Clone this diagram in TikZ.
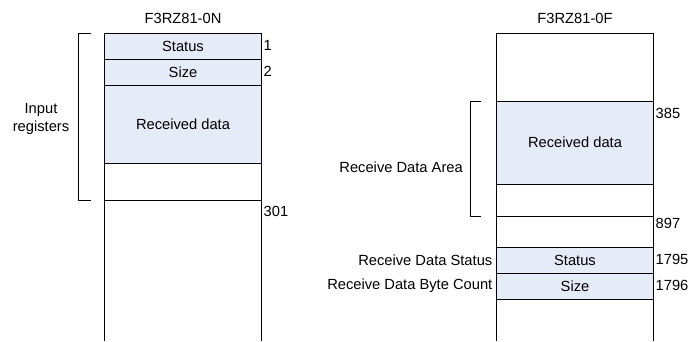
\documentclass[tikz,border=0pt]{standalone}
\usepackage{fontspec}
\setmainfont{Liberation Sans}
\usepackage{xcolor}
\usetikzlibrary{positioning}
\definecolor{regfill}{RGB}{230,236,247}

\begin{document}
\begin{tikzpicture}[x=1pt,y=-1pt,
        cell/.style={draw,line width=0.8pt,minimum width=157pt,inner sep=0pt,outer sep=0pt,font=\fontsize{14.7}{17}\selectfont},
        reg/.style={cell,fill=regfill},
        txt/.style={inner sep=1pt,font=\fontsize{14.7}{18}\selectfont},
        num/.style={txt,anchor=west,inner sep=2pt},
        brk/.style={line width=0.8pt}]
        \useasboundingbox (0,0) rectangle (690,341);
        %F3RZ81-0N
        \node[txt] (titleN) at (183,18) {F3RZ81-0N};
        \node[reg,minimum height=26pt] (statN) at (183,46) {Status};
        \node[reg,minimum height=26pt,below=0pt of statN] (sizeN) {Size};
        \node[reg,minimum height=78pt,below=0pt of sizeN] (recvN) {Received data};
        \node[cell,minimum height=37pt,below=0pt of recvN] (freeN) {};
        \draw[line width=0.8pt] (freeN.south west)--(freeN.south west |- 0,341)
                (freeN.south east)--(freeN.south east |- 0,341);
        %番号
        \node[num] (a1) at ([yshift=-12pt]statN.north east) {1};
        \node[num] (a2) at ([yshift=-12pt]sizeN.north east) {2};
        \node[num] (a301) at ([yshift=-11pt]freeN.south east) {301};
        %Input registers
        \draw[brk] ([xshift=-14pt]statN.north west)--++(-12,0)|-([xshift=-14pt]freeN.south west);
        \node[txt,align=center] (inreg) at (41,119) {Input\\registers};

        %F3RZ81-0F
        \node[txt] (titleF) at (575,18) {F3RZ81-0F};
        \node[cell,minimum height=68pt] (topF) at (575,67) {};
        \node[reg,minimum height=83pt,below=0pt of topF] (recvF) {Received data};
        \node[cell,minimum height=32pt,below=0pt of recvF] (freeF) {};
        \node[cell,minimum height=31pt,below=0pt of freeF] (gapF) {};
        \node[reg,minimum height=26pt,below=0pt of gapF] (statF) {Status};
        \node[reg,minimum height=26pt,below=0pt of statF] (sizeF) {Size};
        \draw[line width=0.8pt] (sizeF.south west)--(sizeF.south west |- 0,341)
                (sizeF.south east)--(sizeF.south east |- 0,341);
        %番号
        \node[num] (a385) at ([yshift=-12pt]recvF.north east) {385};
        \node[num] (a897) at ([yshift=-7pt]freeF.south east) {897};
        \node[num] (a1795) at ([yshift=-12pt]statF.north east) {1795};
        \node[num] (a1796) at ([yshift=-12pt]sizeF.north east) {1796};
        %Receive Data Area
        \draw[brk] ([xshift=-16pt]recvF.north west)--++(-10,0)|-([xshift=-16pt]freeF.south west);
        \node[txt,anchor=east] (rarea) at (464,167) {Receive Data Area};
        \node[txt,left=3pt of statF] (rstat) {Receive Data Status};
        \node[txt,left=3pt of sizeF] (rcount) {Receive Data Byte Count};
    \end{tikzpicture}
\end{document}
